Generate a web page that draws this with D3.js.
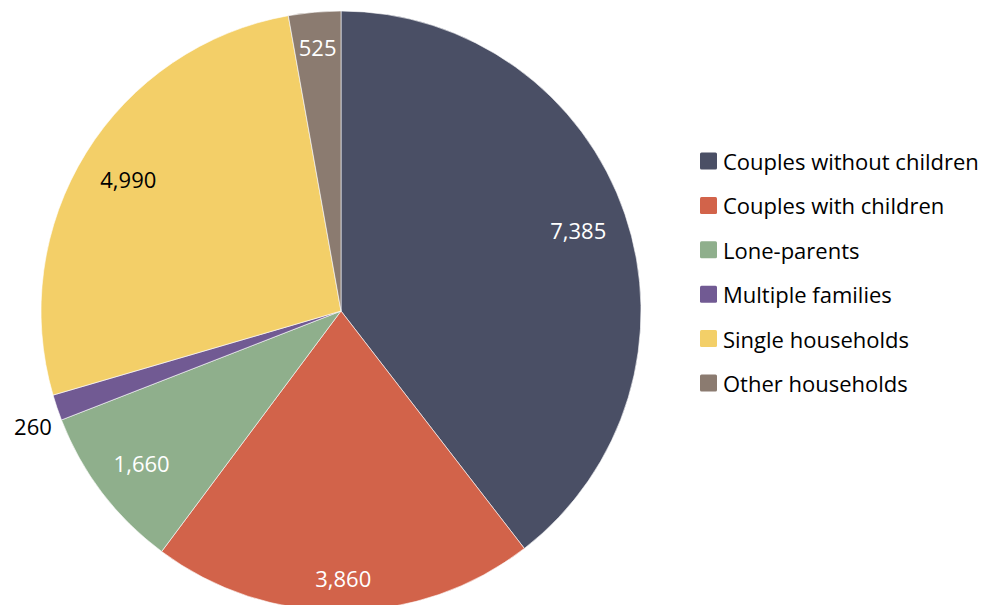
<!DOCTYPE html>
<html>
<head>
<meta charset="utf-8">
<script src="https://cdn.jsdelivr.net/npm/d3@7"></script>
<style>
  html, body { margin: 0; padding: 0; background: #ffffff; }
  svg { display: block; font-family: "Open Sans", "Noto Sans", "DejaVu Sans", sans-serif; }
</style>
</head>
<body>
<svg id="chart" width="989" height="605"></svg>
<script>
const categories = ["Couples without children", "Couples with children", "Lone-parents", "Multiple families", "Single households", "Other households"];
const values = [7385, 3860, 1660, 260, 4990, 525];
const colors = ["#4A4F65", "#D2634A", "#8FAF8C", "#715A93", "#F3CF68", "#8B7B70"];
const labelColors = ["#ffffff", "#ffffff", "#ffffff", "#000000", "#000000", "#ffffff"];
const outsideLabel = [false, false, false, true, false, false];

const svg = d3.select("#chart");
const cx = 341, cy = 311, R = 300;
const fmt = d3.format(",");

const data = categories.map((c, i) => ({ name: c, value: values[i], i }));
const pie = d3.pie().sort(null).value(d => d.value);
const arcs = pie(data);
const arc = d3.arc().innerRadius(0).outerRadius(R);

const g = svg.append("g").attr("transform", `translate(${cx},${cy})`);
g.selectAll("path.slice").data(arcs).join("path")
  .attr("class", "slice")
  .attr("d", arc)
  .attr("fill", d => colors[d.data.i])
  .attr("stroke", "#ffffff")
  .attr("stroke-width", 0.6);

// labels: inside-end placement with box fitted against an inner ring
const labels = g.selectAll("text.lbl").data(arcs).join("text")
  .attr("class", "lbl")
  .attr("text-anchor", "middle")
  .attr("dominant-baseline", "central")
  .attr("font-size", 22)
  .attr("fill", d => labelColors[d.data.i])
  .text(d => fmt(d.data.value));

labels.each(function(d) {
  const bb = this.getBBox();
  let a = (d.startAngle + d.endAngle) / 2;
  if (outsideLabel[d.data.i]) a -= 0.03;
  const ux = Math.sin(a), uy = -Math.cos(a);
  const proj = Math.abs(ux) * bb.width / 2 + Math.abs(uy) * bb.height / 2;
  let r;
  if (outsideLabel[d.data.i]) r = R + 6 + proj;
  else r = R * 0.94 - proj;
  d3.select(this).attr("x", ux * r).attr("y", uy * r);
});

// legend
const legend = svg.append("g").attr("transform", "translate(700,161)");
const rowH = 44.4;
const items = legend.selectAll("g").data(categories).join("g")
  .attr("transform", (d, i) => `translate(0,${i * rowH})`);
items.append("rect")
  .attr("x", 0).attr("y", -8.5).attr("width", 17).attr("height", 17)
  .attr("rx", 1.5)
  .attr("fill", (d, i) => colors[i]);
items.append("text")
  .attr("x", 23).attr("y", 0)
  .attr("dominant-baseline", "central")
  .attr("font-size", 22)
  .attr("fill", "#000000")
  .text(d => d);
</script>
</body>
</html>
